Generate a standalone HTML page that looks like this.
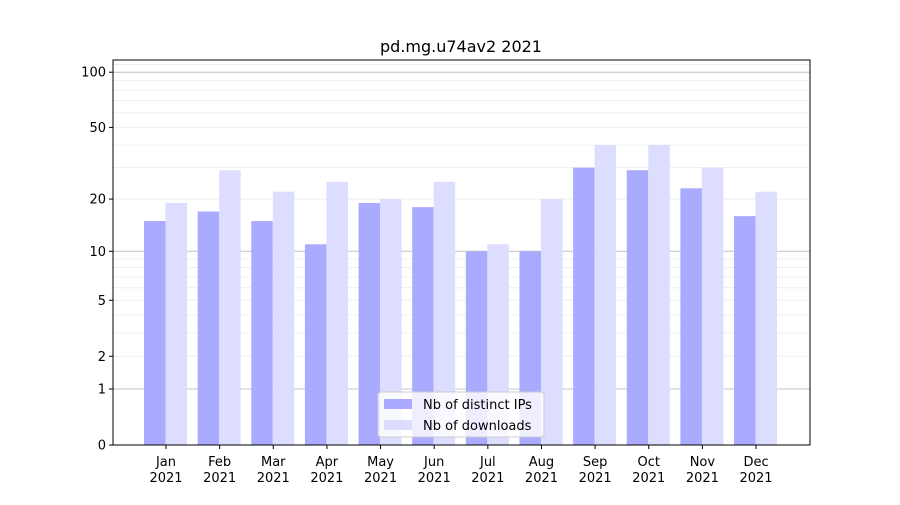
<!DOCTYPE html>
<html><head><meta charset="utf-8"><style>
body{margin:0;background:#fff;font-family:"Liberation Sans","DejaVu Sans",sans-serif;}
svg text{font-family:"DejaVu Sans","Liberation Sans",sans-serif;}
</style></head><body>
<svg id="chart" width="900" height="500" xmlns="http://www.w3.org/2000/svg">
<rect width="900" height="500" fill="#fff"/>
<text x="461" y="52" text-anchor="middle" font-size="16">pd.mg.u74av2 2021</text>
<g id="grid"></g><g id="bars"></g><g id="axes"></g>
</svg>
<script>
const months=["Jan","Feb","Mar","Apr","May","Jun","Jul","Aug","Sep","Oct","Nov","Dec"];
const ips=[15,17,15,11,19,18,10,10,30,29,23,16];
const downloads=[19,29,22,25,20,25,11,20,40,40,30,22];
const yTicks=[0,1,2,5,10,20,50,100];
const NS="http://www.w3.org/2000/svg";
const L=113,R=810,T=60,B=445;
function y(v){return B-186*Math.log10(v+1);}
function xc(i){return 166+i*53.64;}
function mk(tag,attrs,parent,txt){const e=document.createElementNS(NS,tag);for(const k in attrs)e.setAttribute(k,attrs[k]);if(txt!==undefined)e.textContent=txt;parent.appendChild(e);return e;}
const grid=document.getElementById('grid'),bars=document.getElementById('bars'),axes=document.getElementById('axes');
const minor=[2,3,4,5,6,7,8,9,20,30,40,50,60,70,80,90,110];
minor.forEach(v=>{const g=mk('line',{x1:L,x2:R,y1:y(v),y2:y(v),stroke:'#ebebeb','stroke-width':0.8},grid);

});
[1,10,100].forEach(v=>{const g=mk('line',{x1:L,x2:R,y1:y(v),y2:y(v),stroke:'#c4c4c4','stroke-width':1},grid);

});
months.forEach((m,i)=>{
const b1=mk('rect',{x:xc(i)-22,y:y(ips[i]),width:21.5,height:B-y(ips[i]),fill:'#aaaaff'},bars);


const b2=mk('rect',{x:xc(i)-0.5,y:y(downloads[i]),width:21.5,height:B-y(downloads[i]),fill:'#ddddff'},bars);


mk('line',{x1:xc(i),x2:xc(i),y1:B,y2:B+4,stroke:'#000'},axes);
const t=mk('text',{x:xc(i),y:B+21,'text-anchor':'middle','font-size':13},axes,m);


const t2=mk('text',{x:xc(i),y:B+37,'text-anchor':'middle','font-size':13},axes,'2021');


});
yTicks.forEach(v=>{mk('line',{x1:L-4,x2:L,y1:y(v),y2:y(v),stroke:'#000'},axes);
const t=mk('text',{x:L-7,y:y(v)+4.5,'text-anchor':'end','font-size':13},axes,String(v));

});
const fr=mk('rect',{x:L,y:T,width:R-L,height:B-T,fill:'none',stroke:'#000','stroke-width':1},axes);


const lg=mk('g',{},axes);


mk('rect',{x:378,y:392,width:166,height:45,rx:3,fill:'#fff','fill-opacity':0.8,stroke:'#ccc'},lg);
mk('rect',{x:384,y:399,width:28,height:10,fill:'#aaaaff'},lg);
mk('rect',{x:384,y:420,width:28,height:10,fill:'#ddddff'},lg);
const l1=mk('text',{x:423,y:409,'font-size':13},lg,'Nb of distinct IPs');


const l2=mk('text',{x:423,y:430,'font-size':13},lg,'Nb of downloads');


</script>
</body></html>
